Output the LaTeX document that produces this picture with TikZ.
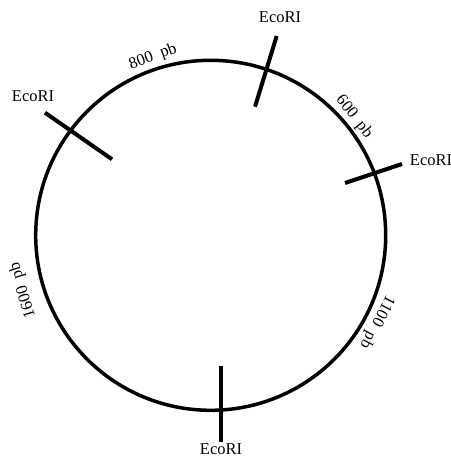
\documentclass[tikz,border=0pt]{standalone}
\usepackage{fontspec}
\setmainfont{Liberation Serif}
\begin{document}
\begin{tikzpicture}[x=1pt,y=-1pt,
  lbl/.style={font=\fontsize{16.5}{18}\selectfont, inner sep=0pt, anchor=center},
  tick/.style={line width=4pt},
  ring/.style={line width=3.5pt}]
\useasboundingbox (0,0) rectangle (450,457);
\node[draw, ring, circle, minimum size=350pt, inner sep=0pt] (plasmid) at (210.7,235.3) {};
% tick end points
\coordinate (t1) at (276.7,36);   \coordinate (t2) at (255,106.7);
\coordinate (l1) at (45,112.7);   \coordinate (l2) at (112,159.3);
\coordinate (r1) at (345,183);    \coordinate (r2) at (402,164);
\coordinate (b1) at (221,366);    \coordinate (b2) at (221,442);
\draw[tick] (t1) -- (t2);
\draw[tick] (l1) -- (l2);
\draw[tick] (r1) -- (r2);
\draw[tick] (b1) -- (b2);
% labels
\node[lbl] (ecoTop) at (280,17) {EcoRI};
\node[lbl] (ecoLeft) at (33,96) {EcoRI};
\node[lbl] (ecoRight) at (431,160) {EcoRI};
\node[lbl] (ecoBottom) at (221,449) {EcoRI};
\node[lbl, rotate=20] (s800) at (153,57) {800\ \ pb};
\node[lbl, rotate=-52] (s600) at (354,117) {600\ \ pb};
\node[lbl, rotate=107] (s1600) at (23,290) {1600\ \ pb};
\node[lbl, rotate=-118] (s1100) at (377,322) {1100\ \ pb};
\end{tikzpicture}
\end{document}
